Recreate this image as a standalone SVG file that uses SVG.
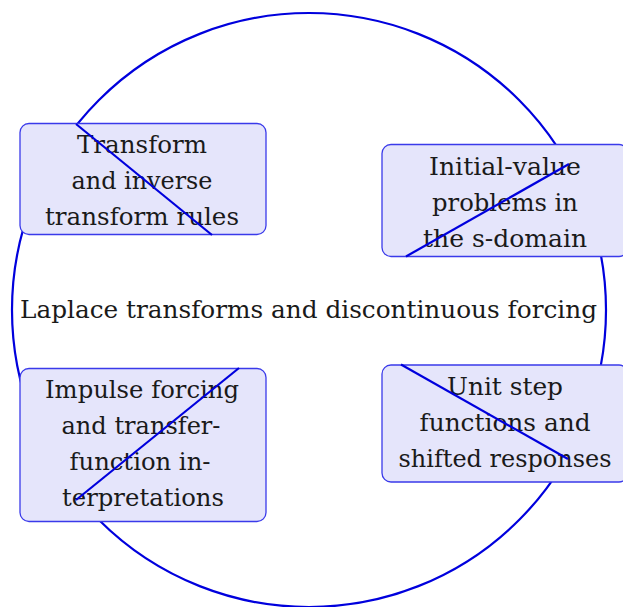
<svg xmlns="http://www.w3.org/2000/svg" width="623" height="607" viewBox="0 0 623 607">
<style>
.node rect{fill:#e5e5fb;stroke:#3a3aea;stroke-width:1.3}
.t{font-family:'DejaVu Serif',serif;font-size:25px;fill:#1a1a1a;text-anchor:middle}
.ln{stroke:#0000dd;stroke-width:2.2;fill:none}
</style>
<rect width="623" height="607" fill="#ffffff"/>
<g id="ring">
<circle cx="309" cy="310" r="297" fill="none" stroke="#0000dd" stroke-width="2.2"/>
</g>
<g id="center">
<text class="t" x="308.5" y="318" textLength="577" lengthAdjust="spacingAndGlyphs">Laplace transforms and discontinuous forcing</text>
</g>
<g id="n1" class="node">
<rect x="20" y="123.5" width="246" height="111" rx="9"/>
<text class="t" x="142" y="153" textLength="130" lengthAdjust="spacingAndGlyphs">Transform</text>
<text class="t" x="142" y="189" textLength="141" lengthAdjust="spacingAndGlyphs">and inverse</text>
<text class="t" x="142" y="225" textLength="194" lengthAdjust="spacingAndGlyphs">transform rules</text>
</g>
<g id="n2" class="node">
<rect x="382" y="144.5" width="246" height="112" rx="9"/>
<text class="t" x="505" y="175" textLength="152" lengthAdjust="spacingAndGlyphs">Initial-value</text>
<text class="t" x="505" y="211" textLength="146" lengthAdjust="spacingAndGlyphs">problems in</text>
<text class="t" x="505" y="247" textLength="164" lengthAdjust="spacingAndGlyphs">the s-domain</text>
</g>
<g id="n3" class="node">
<rect x="20" y="368.5" width="246" height="153" rx="9"/>
<text class="t" x="142" y="398" textLength="194" lengthAdjust="spacingAndGlyphs">Impulse forcing</text>
<text class="t" x="141" y="434" textLength="159" lengthAdjust="spacingAndGlyphs">and transfer-</text>
<text class="t" x="140" y="470" textLength="141" lengthAdjust="spacingAndGlyphs">function in-</text>
<text class="t" x="143" y="506" textLength="162" lengthAdjust="spacingAndGlyphs">terpretations</text>
</g>
<g id="n4" class="node">
<rect x="382" y="365" width="246" height="117" rx="9"/>
<text class="t" x="505" y="395" textLength="116" lengthAdjust="spacingAndGlyphs">Unit step</text>
<text class="t" x="505" y="431" textLength="171" lengthAdjust="spacingAndGlyphs">functions and</text>
<text class="t" x="505" y="467" textLength="213" lengthAdjust="spacingAndGlyphs">shifted responses</text>
</g>
<g id="connectors">
<line class="ln" x1="76" y1="124" x2="212" y2="235"/>
<line class="ln" x1="406" y1="256.5" x2="569" y2="164"/>
<line class="ln" x1="76" y1="500" x2="239" y2="368"/>
<line class="ln" x1="401" y1="364.5" x2="568" y2="459"/>
</g>
</svg>
